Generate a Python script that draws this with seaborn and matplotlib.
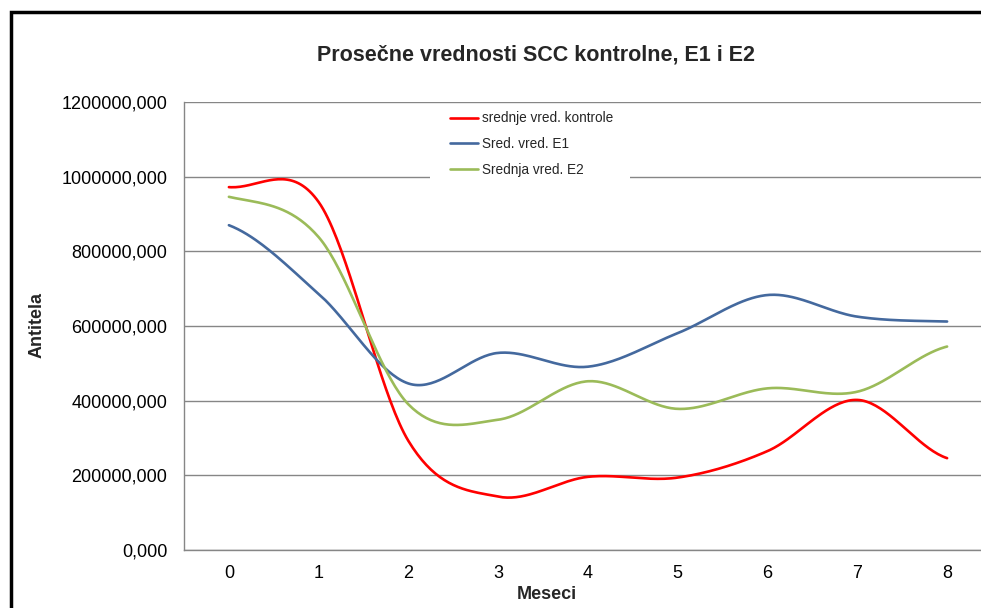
import numpy as np
import pandas as pd
import matplotlib
matplotlib.use("Agg")
import matplotlib.pyplot as plt
from matplotlib.patches import Rectangle
from matplotlib.ticker import FuncFormatter, FixedLocator
import seaborn as sns

# values
meseci = [0, 1, 2, 3, 4, 5, 6, 7, 8]
kontrola = [972000, 932000, 292000, 143000, 196000, 194000, 265000, 402000, 246000]
e1 = [870000, 686000, 446000, 528000, 491000, 581000, 683000, 625000, 612000]
e2 = [946000, 838000, 390000, 349000, 452000, 378000, 433000, 424000, 545000]

serije = ["srednje vred. kontrole", "Sred. vred. E1", "Srednja vred. E2"]
boje = ["#FF0000", "#44699E", "#9BBB59"]


def smooth(x, y, n=40):
    # Excel-like smoothing: cubic bezier through each point, tangents from neighbours
    x = np.asarray(x, float)
    y = np.asarray(y, float)
    xs, ys = [], []
    for i in range(len(y) - 1):
        y0 = y[i - 1] if i > 0 else y[i]
        y3 = y[i + 2] if i + 2 < len(y) else y[i + 1]
        c1 = y[i] + (y[i + 1] - y0) / 6
        c2 = y[i + 1] - (y3 - y[i]) / 6
        t = np.linspace(0, 1, n, endpoint=(i == len(y) - 2))
        ys.append((1 - t) ** 3 * y[i] + 3 * (1 - t) ** 2 * t * c1 + 3 * (1 - t) * t ** 2 * c2 + t ** 3 * y[i + 1])
        xs.append(x[i] + t * (x[i + 1] - x[i]))
    return np.concatenate(xs), np.concatenate(ys)


frames = []
for name, vals in zip(serije, [kontrola, e1, e2]):
    sx, sy = smooth(meseci, vals)
    frames.append(pd.DataFrame({"mesec": sx, "vrednost": sy, "serija": name}))
df = pd.concat(frames, ignore_index=True)

sns.set_style("white")
plt.rcParams["font.family"] = ["Liberation Sans", "DejaVu Sans"]

fig = plt.figure(figsize=(9.81, 6.08), dpi=100)
ax = fig.add_axes([184 / 981, 1 - 550 / 608, 808 / 981, 448 / 608])

sns.lineplot(data=df, x="mesec", y="vrednost", hue="serija", hue_order=serije,
             palette=boje, estimator=None, sort=False, linewidth=1.9, ax=ax)

ax.set_xlim(-0.5, 8.5)
ax.set_ylim(0, 1200000)
ax.set_yticks(np.arange(0, 1200001, 200000))
ax.yaxis.set_major_formatter(FuncFormatter(lambda v, p: f"{v:.3f}".replace(".", ",")))
ax.set_xticks(meseci)
ax.xaxis.set_minor_locator(FixedLocator(np.arange(-0.5, 8.6, 1)))
ax.tick_params(axis="x", which="major", length=0, pad=10.5, labelsize=13, colors="black")
ax.tick_params(axis="x", which="minor", length=5, width=1, color="#868686", direction="out")
ax.tick_params(axis="y", length=6, width=1, color="#868686", direction="out", pad=6,
               labelsize=13, labelcolor="black")

ax.grid(axis="y", color="#868686", linewidth=1)
ax.set_axisbelow(True)
for s in ["top", "right"]:
    ax.spines[s].set_visible(False)
for s in ["left", "bottom"]:
    ax.spines[s].set_color("#868686")
    ax.spines[s].set_linewidth(1)

ax.set_ylabel("Antitela", fontsize=13, fontweight="bold")
ax.set_xlabel("Meseci", fontsize=13, fontweight="bold")
ax.yaxis.set_label_coords((46 - 184) / 808, 0.502)
ax.xaxis.set_label_coords((547 - 184) / 808, -(586 - 550) / 448)

# white legend area hiding the gridlines
ax.add_patch(Rectangle((430 / 981, 1 - 180 / 608), 200 / 981, 76 / 608,
                       transform=fig.transFigure, facecolor="white", edgecolor="none",
                       zorder=1, clip_on=False))
ax.legend(loc="upper left", bbox_to_anchor=(445 / 981, 1 - 106 / 608),
          bbox_transform=fig.transFigure, frameon=False, fontsize=9.8,
          handlelength=2.0, handletextpad=0.35, labelspacing=0.85, borderaxespad=0)

fig.text(536 / 981, 1 - 55 / 608, "Prosečne vrednosti SCC kontrolne, E1 i E2",
         ha="center", va="center", fontsize=15.5, fontweight="bold")

# chart frame, cut off at right and bottom
fig.patches.append(Rectangle((11 / 981, -0.05), 1.0, 1 - 12 / 608 + 0.05,
                             transform=fig.transFigure, fill=False,
                             edgecolor="black", linewidth=2.5))

fig.savefig("out.png", dpi=100)
